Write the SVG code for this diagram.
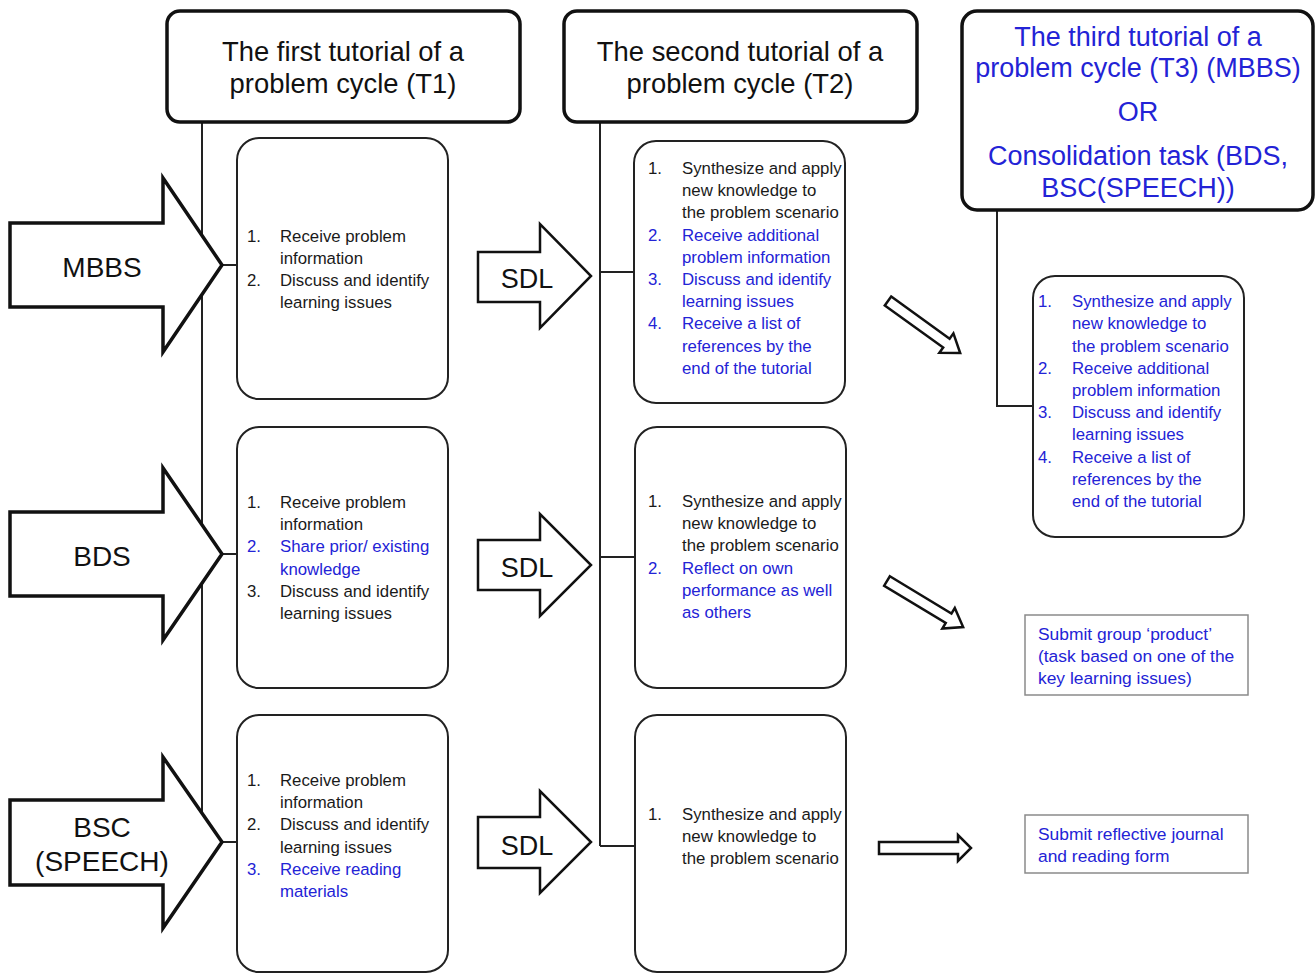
<svg xmlns="http://www.w3.org/2000/svg" width="1315" height="974" viewBox="0 0 1315 974">
<defs>
<style>
.hdr{fill:#fff;stroke:#111;stroke-width:3.5}
.box{fill:#fff;stroke:#222;stroke-width:2}
.sq{fill:#fff;stroke:#8a8a8a;stroke-width:1.5}
.big{fill:#fff;stroke:#111;stroke-width:3.5;stroke-linejoin:miter}
.sdl{fill:#fff;stroke:#111;stroke-width:2.5;stroke-linejoin:miter}
.hol{fill:#fff;stroke:#111;stroke-width:2.5;stroke-linejoin:miter}
.ln{fill:none;stroke:#222;stroke-width:2}
text{font-family:"Liberation Sans",Arial,sans-serif}
.h{font-size:27.4px;fill:#111;text-anchor:middle}
.hb{font-size:27px;fill:#2323d6;text-anchor:middle}
.lab{font-size:28px;fill:#111;text-anchor:middle}
.t{font-size:16.8px;fill:#1a1a1a}
.b{font-size:16.8px;fill:#2323d6}
.s{font-size:17.4px;fill:#2323d6}
</style>
</defs>

<g id="connectors">
<path class="ln" d="M202,122 V842 M202,265 H237 M202,554 H237 M202,842 H237"/>
<path class="ln" d="M600,122 V846 M600,272 H634 M600,557 H635 M600,846 H635"/>
<path class="ln" d="M997,210 V406 H1033"/>
<polygon class="hol" transform="translate(888,301) rotate(35.8)" points="0,-5.5 72,-5.5 72,-12 89,0 72,12 72,5.5 0,5.5"/>
<polygon class="hol" transform="translate(887,581) rotate(31.2)" points="0,-5.5 72,-5.5 72,-12 89,0 72,12 72,5.5 0,5.5"/>
<polygon class="hol" points="879,842 958,842 958,835 971,848 958,861 958,854 879,854"/>
</g>

<g id="header-t1">
<rect class="hdr" x="167" y="11" width="353" height="111" rx="13"/>
<text class="h" x="343" y="61">The first tutorial of a</text>
<text class="h" x="343" y="93">problem cycle (T1)</text>
</g>

<g id="header-t2">
<rect class="hdr" x="564" y="11" width="353" height="111" rx="13"/>
<text class="h" x="740" y="61">The second tutorial of a</text>
<text class="h" x="740" y="93">problem cycle (T2)</text>
</g>

<g id="header-t3">
<rect class="hdr" x="962" y="11" width="351" height="199" rx="15"/>
<text class="hb" x="1138" y="46">The third tutorial of a</text>
<text class="hb" x="1138" y="77">problem cycle (T3) (MBBS)</text>
<text class="hb" x="1138" y="121">OR</text>
<text class="hb" x="1138" y="165">Consolidation task (BDS,</text>
<text class="hb" x="1138" y="197">BSC(SPEECH))</text>
</g>

<g id="arrow-mbbs">
<polygon class="big" points="10,223 163,223 163,178 222,265 163,352 163,307 10,307"/>
<text class="lab" x="102" y="277">MBBS</text>
</g>
<g id="arrow-bds">
<polygon class="big" points="10,512 163,512 163,468 222,554 163,640 163,596 10,596"/>
<text class="lab" x="102" y="566">BDS</text>
</g>
<g id="arrow-bsc">
<polygon class="big" points="10,800 163,800 163,757 222,842 163,928 163,885 10,885"/>
<text class="lab" x="102" y="837">BSC</text>
<text class="lab" x="102" y="871">(SPEECH)</text>
</g>

<g id="sdl-1">
<polygon class="sdl" points="478,252 540,252 540,224 591,276 540,328 540,302 478,302"/>
<text class="lab" x="527" y="288" style="font-size:27px">SDL</text>
</g>
<g id="sdl-2">
<polygon class="sdl" points="478,540 540,540 540,514 591,565 540,616 540,590 478,590"/>
<text class="lab" x="527" y="577" style="font-size:27px">SDL</text>
</g>
<g id="sdl-3">
<polygon class="sdl" points="478,817 540,817 540,791 591,842 540,893 540,868 478,868"/>
<text class="lab" x="527" y="855" style="font-size:27px">SDL</text>
</g>

<g id="t1-mbbs">
<rect class="box" x="237" y="138" width="211" height="261" rx="22"/>
<text class="t" x="247" y="242">1.</text><text class="t" x="280" y="242">Receive problem</text>
<text class="t" x="280" y="264">information</text>
<text class="t" x="247" y="286">2.</text><text class="t" x="280" y="286">Discuss and identify</text>
<text class="t" x="280" y="308">learning issues</text>
</g>

<g id="t1-bds">
<rect class="box" x="237" y="427" width="211" height="261" rx="22"/>
<text class="t" x="247" y="508">1.</text><text class="t" x="280" y="508">Receive problem</text>
<text class="t" x="280" y="530">information</text>
<text class="b" x="247" y="552">2.</text><text class="b" x="280" y="552">Share prior/ existing</text>
<text class="b" x="280" y="575">knowledge</text>
<text class="t" x="247" y="597">3.</text><text class="t" x="280" y="597">Discuss and identify</text>
<text class="t" x="280" y="619">learning issues</text>
</g>

<g id="t1-bsc">
<rect class="box" x="237" y="715" width="211" height="257" rx="22"/>
<text class="t" x="247" y="786">1.</text><text class="t" x="280" y="786">Receive problem</text>
<text class="t" x="280" y="808">information</text>
<text class="t" x="247" y="830">2.</text><text class="t" x="280" y="830">Discuss and identify</text>
<text class="t" x="280" y="853">learning issues</text>
<text class="b" x="247" y="875">3.</text><text class="b" x="280" y="875">Receive reading</text>
<text class="b" x="280" y="897">materials</text>
</g>

<g id="t2-mbbs">
<rect class="box" x="634" y="141" width="211" height="262" rx="22"/>
<text class="t" x="648" y="174">1.</text><text class="t" x="682" y="174">Synthesize and apply</text>
<text class="t" x="682" y="196">new knowledge to</text>
<text class="t" x="682" y="218">the problem scenario</text>
<text class="b" x="648" y="241">2.</text><text class="b" x="682" y="241">Receive additional</text>
<text class="b" x="682" y="263">problem information</text>
<text class="b" x="648" y="285">3.</text><text class="b" x="682" y="285">Discuss and identify</text>
<text class="b" x="682" y="307">learning issues</text>
<text class="b" x="648" y="329">4.</text><text class="b" x="682" y="329">Receive a list of</text>
<text class="b" x="682" y="352">references by the</text>
<text class="b" x="682" y="374">end of the tutorial</text>
</g>

<g id="t2-bds">
<rect class="box" x="635" y="427" width="211" height="261" rx="22"/>
<text class="t" x="648" y="507">1.</text><text class="t" x="682" y="507">Synthesize and apply</text>
<text class="t" x="682" y="529">new knowledge to</text>
<text class="t" x="682" y="551">the problem scenario</text>
<text class="b" x="648" y="574">2.</text><text class="b" x="682" y="574">Reflect on own</text>
<text class="b" x="682" y="596">performance as well</text>
<text class="b" x="682" y="618">as others</text>
</g>

<g id="t2-bsc">
<rect class="box" x="635" y="715" width="211" height="257" rx="22"/>
<text class="t" x="648" y="820">1.</text><text class="t" x="682" y="820">Synthesize and apply</text>
<text class="t" x="682" y="842">new knowledge to</text>
<text class="t" x="682" y="864">the problem scenario</text>
</g>

<g id="t3-mbbs">
<rect class="box" x="1033" y="276" width="211" height="261" rx="22"/>
<text class="b" x="1038" y="307">1.</text><text class="b" x="1072" y="307">Synthesize and apply</text>
<text class="b" x="1072" y="329">new knowledge to</text>
<text class="b" x="1072" y="352">the problem scenario</text>
<text class="b" x="1038" y="374">2.</text><text class="b" x="1072" y="374">Receive additional</text>
<text class="b" x="1072" y="396">problem information</text>
<text class="b" x="1038" y="418">3.</text><text class="b" x="1072" y="418">Discuss and identify</text>
<text class="b" x="1072" y="440">learning issues</text>
<text class="b" x="1038" y="463">4.</text><text class="b" x="1072" y="463">Receive a list of</text>
<text class="b" x="1072" y="485">references by the</text>
<text class="b" x="1072" y="507">end of the tutorial</text>
</g>

<g id="task-bds">
<rect class="sq" x="1025" y="615" width="223" height="80"/>
<text class="s" x="1038" y="640">Submit group ‘product’</text>
<text class="s" x="1038" y="662">(task based on one of the</text>
<text class="s" x="1038" y="684">key learning issues)</text>
</g>

<g id="task-bsc">
<rect class="sq" x="1025" y="815" width="223" height="58"/>
<text class="s" x="1038" y="840">Submit reflective journal</text>
<text class="s" x="1038" y="862">and reading form</text>
</g>
</svg>
